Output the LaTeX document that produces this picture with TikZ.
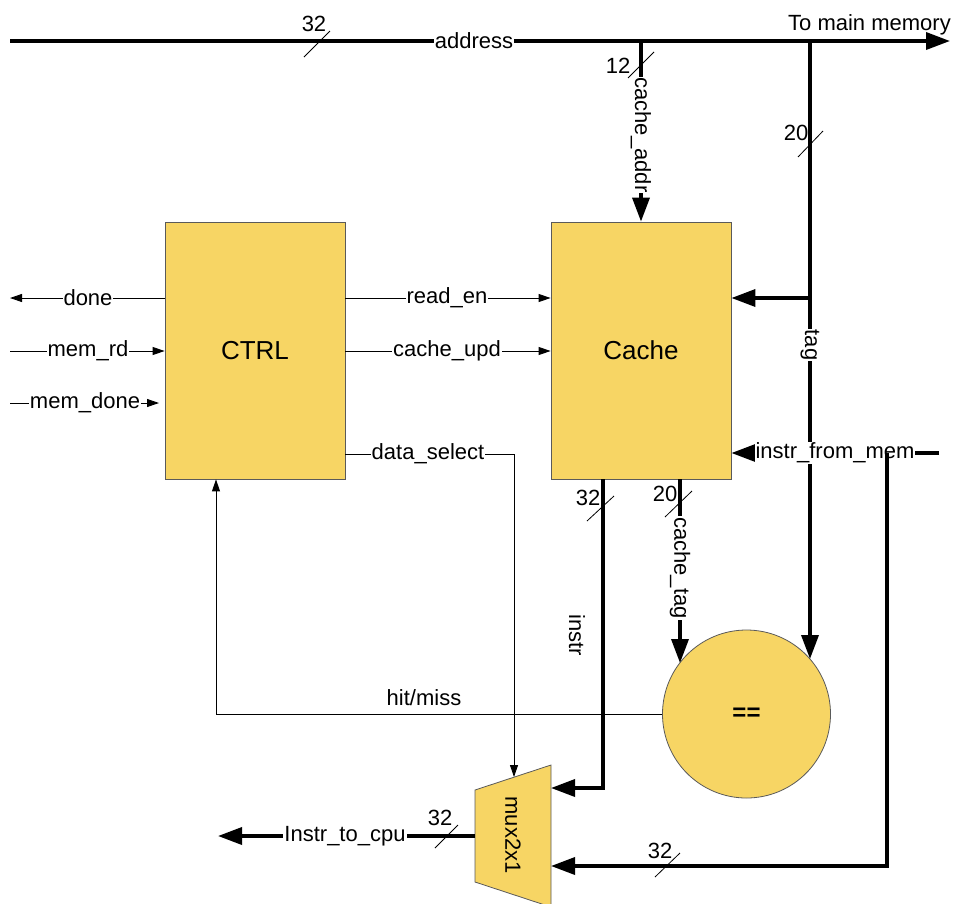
\documentclass[tikz,border=0pt]{standalone}
\usepackage{fontspec}
\setmainfont{Liberation Sans}
\usetikzlibrary{arrows.meta}
\definecolor{boxfill}{HTML}{F7D564}
\definecolor{boxline}{HTML}{5A5A5A}
\begin{document}
\begin{tikzpicture}[x=1pt,y=-1pt,
 font=\fontsize{22}{25}\selectfont,
 bus/.style={line width=3.5pt},
 sig/.style={line width=0.9pt},
 bigtip/.style={-{Triangle[length=24pt,width=17pt]}},
 smalltip/.style={-{Triangle[length=12pt,width=8pt]}},
 lbl/.style={fill=white,inner sep=1pt},
 block/.style={draw=boxline,fill=boxfill,line width=0.8pt,minimum width=180pt,minimum height=257pt,inner sep=0pt},
 slash/.style={line width=0.8pt},
 num/.style={inner sep=0pt},
 big/.style={font=\fontsize{26}{30}\selectfont}]
\useasboundingbox (0,0) rectangle (956,903);

% blocks
\node[block,big] (ctrl) at (255,350.5) {CTRL};
\node[block,big] (cache) at (641,350.5) {Cache};
\node[draw=boxline,fill=boxfill,line width=0.8pt,circle,minimum size=168pt,inner sep=0pt,font=\bfseries\fontsize{24}{28}\selectfont] (eq) at (746.5,714) {==};
\draw[draw=boxline,fill=boxfill,line width=0.8pt] (475,790) -- (551,765) -- (551,907) -- (475,882) -- cycle;
\node[rotate=-90,inner sep=0pt] (mux) at (513,835) {mux2x1};
\coordinate (muxL) at (475,836);

% address bus
\coordinate (addrL) at (10,41);
\coordinate (addrR) at (950,41);
\coordinate (jA) at (641,41);
\coordinate (jT) at (810,41);
\draw[bus,bigtip] (addrL) -- (addrR);
\node[lbl] (addrlbl) at (474,41) {address};
\node[num] (n32a) at (314,24) {32};
\draw[slash] (304,57) -- (330,31);
\node[num,anchor=south east] (tomem) at (951,35) {To main memory};

% cache_addr
\draw[bus,bigtip] (jA) -- (cache.north);
\node[num] (n12) at (618,66) {12};
\draw[slash] (628,78) -- (654,52);
\node[lbl,rotate=-90] (calbl) at (641,135) {cache\_addr};

% tag
\coordinate (eqT) at (810,659);
\coordinate (jT2) at (810,298);
\draw[bus,bigtip] (jT) -- (eqT);
\draw[bus,bigtip] (jT2) -- (cache.east |- jT2);
\node[num] (n20a) at (796,133) {20};
\draw[slash] (798,157) -- (823,131);
\node[lbl,rotate=-90] (taglbl) at (810,345) {tag};

% instr_from_mem
\coordinate (ifmR) at (939,453);
\coordinate (jM) at (887,453);
\coordinate (jM2) at (887,866);
\coordinate (muxB) at (551,866);
\draw[bus,bigtip] (ifmR) -- (cache.east |- ifmR);
\node[lbl] (ifmlbl) at (835,453) {instr\_from\_mem};
\draw[bus,bigtip] (jM) -- (jM2) -- (muxB);
\node[num] (n32d) at (660,851) {32};
\draw[slash] (655,877) -- (680,853);

% instr
\coordinate (cI) at (603,479);
\coordinate (cI2) at (603,788);
\coordinate (muxA) at (551,788);
\draw[bus,bigtip] (cI) -- (cI2) -- (muxA);
\node[num] (n32b) at (588,498) {32};
\draw[slash] (587,521) -- (614,496);
\node[rotate=-90,inner sep=0pt] (instrlbl) at (577,635) {instr};

% cache_tag
\coordinate (cT) at (680,479);
\coordinate (eqC) at (680,663);
\draw[bus,bigtip] (cT) -- (eqC);
\node[num] (n20b) at (665,494) {20};
\draw[slash] (665,517) -- (692,491);
\node[lbl,rotate=-90] (ctlbl) at (680,568) {cache\_tag};

% Instr_to_cpu
\coordinate (cpu) at (218,836);
\draw[bus,bigtip] (muxL) -- (cpu);
\node[lbl] (cpulbl) at (345,836) {Instr\_to\_cpu};
\node[num] (n32c) at (440,818) {32};
\draw[slash] (435,848) -- (458,825);

% control signals
\coordinate (doneL) at (10,298);
\coordinate (rdL) at (10,351);
\coordinate (mdL) at (10,403);
\coordinate (mdR) at (159,403);
\draw[sig,smalltip] (ctrl.west |- doneL) -- (doneL);
\node[lbl] (donelbl) at (88,298) {done};
\draw[sig,smalltip] (rdL) -- (ctrl.west |- rdL);
\node[lbl] (rdlbl) at (88,351) {mem\_rd};
\draw[sig,smalltip] (mdL) -- (mdR);
\node[lbl] (mdlbl) at (85,403) {mem\_done};

\draw[sig,smalltip] (ctrl.east |- doneL) -- (cache.west |- doneL);
\node[lbl] (relbl) at (447,298) {read\_en};
\draw[sig,smalltip] (ctrl.east |- rdL) -- (cache.west |- rdL);
\node[lbl] (culbl) at (447,351) {cache\_upd};

\coordinate (dsA) at (514,454);
\coordinate (dsB) at (514,777);
\draw[sig,smalltip] (ctrl.east |- dsA) -- (dsA) -- (dsB);
\node[lbl] (dslbl) at (428,454) {data\_select};

% hit/miss
\coordinate (hm) at (216,714);
\draw[sig,smalltip] (eq.west) -- (hm) -- (ctrl.south -| hm);
\node[num] (hmlbl) at (424,698) {hit/miss};
\end{tikzpicture}
\end{document}
